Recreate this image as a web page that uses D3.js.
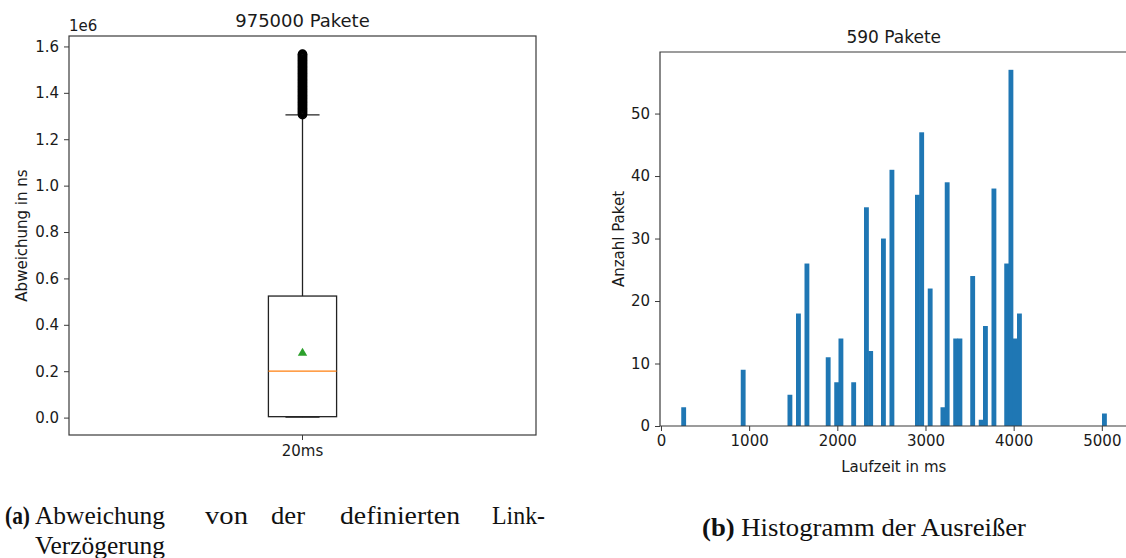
<!DOCTYPE html>
<html>
<head>
<meta charset="utf-8">
<script src="https://cdn.jsdelivr.net/npm/d3@7"></script>
<style>
  html, body { margin: 0; padding: 0; background: #fff; }
  svg { display: block; }
  text { font-family: "DejaVu Sans", sans-serif; fill: #1a1a1a; }
  .caption { font-family: "Liberation Serif", "Times New Roman", serif; fill: #111; }
</style>
</head>
<body>
<script>
// ---------- Box plot: deviation from the configured link delay ----------
const boxCategories = ["20ms"];
const boxStats = {            // ns
  whiskerLow: 2000,
  q1: 4000,
  median: 200000,
  mean: 278000,
  q3: 524000,
  whiskerHigh: 1305000
};
// flier values above the upper whisker, in thousands of ns
const boxFliersK = [
  1306, 1310, 1314, 1318, 1322, 1326, 1330, 1334, 1338, 1342,
  1346, 1350, 1354, 1358, 1362, 1366, 1370, 1374, 1378, 1382,
  1386, 1390, 1394, 1398, 1402, 1406, 1410, 1414, 1418, 1422,
  1426, 1430, 1434, 1438, 1442, 1446, 1450, 1454, 1458, 1462,
  1466, 1470, 1474, 1478, 1482, 1486, 1490, 1494, 1498, 1502,
  1506, 1510, 1514, 1518, 1522, 1526, 1530, 1534, 1538, 1542,
  1546, 1550, 1554, 1558, 1562, 1565, 1567
];
const boxYTicks = [0, 200000, 400000, 600000, 800000, 1000000, 1200000, 1400000, 1600000];

// ---------- Histogram: travel time of the outliers ----------
const histRange = [230, 5050];   // ms, first bin left edge .. last bin right edge
const histBinCount = 100;
const histCounts = [
  3, 0, 0, 0, 0, 0, 0, 0, 0, 0,
  0, 0, 0, 0, 9, 0, 0, 0, 0, 0,
  0, 0, 0, 0, 0, 5, 0, 18, 0, 26,
  0, 0, 0, 0, 11, 0, 7, 14, 0, 0,
  7, 0, 0, 35, 12, 0, 0, 30, 0, 41,
  0, 0, 0, 0, 0, 37, 47, 0, 22, 0,
  0, 3, 39, 0, 14, 14, 0, 0, 24, 0,
  1, 16, 0, 38, 0, 0, 26, 57, 14, 18,
  0, 0, 0, 0, 0, 0, 0, 0, 0, 0,
  0, 0, 0, 0, 0, 0, 0, 0, 0, 2
];
const histXTicks = [0, 1000, 2000, 3000, 4000, 5000];
const histYTicks = [0, 10, 20, 30, 40, 50];

const W = 1126, H = 558;
const svg = d3.select("body").append("svg").attr("width", W).attr("height", H);
svg.append("rect").attr("width", W).attr("height", H).attr("fill", "#fff");

const spineColor = "#3a3a3a";
const tickFont = 15;

// ================= left panel =================
const L = { left: 69, right: 536, top: 36, bottom: 435 };
const yBox = d3.scaleLinear().domain([-75000, 1645000]).range([L.bottom, L.top]);
const xBox = d3.scaleBand().domain(boxCategories).range([L.left, L.right]);
const gL = svg.append("g");

// frame
gL.append("rect")
  .attr("x", L.left).attr("y", L.top)
  .attr("width", L.right - L.left).attr("height", L.bottom - L.top)
  .attr("fill", "none").attr("stroke", spineColor).attr("stroke-width", 1.2);

// y axis
const yAxisL = d3.axisLeft(yBox).tickValues(boxYTicks)
  .tickFormat(d => (d / 1e6).toFixed(1)).tickSize(5).tickPadding(5);
gL.append("g").attr("transform", `translate(${L.left},0)`).call(yAxisL)
  .call(g => g.select(".domain").remove())
  .call(g => g.selectAll("line").attr("stroke", spineColor))
  .call(g => g.selectAll("text").attr("font-size", tickFont)
    .attr("font-family", "DejaVu Sans").attr("fill", "#1a1a1a"));

// x axis
const xAxisL = d3.axisBottom(xBox).tickSize(5).tickPadding(5);
gL.append("g").attr("transform", `translate(0,${L.bottom})`).call(xAxisL)
  .call(g => g.select(".domain").remove())
  .call(g => g.selectAll("line").attr("stroke", spineColor))
  .call(g => g.selectAll("text").attr("font-size", tickFont)
    .attr("font-family", "DejaVu Sans").attr("fill", "#1a1a1a"));

// offset text and titles
gL.append("text").attr("x", L.left).attr("y", 31).attr("font-size", tickFont).text("1e6");
gL.append("text").attr("x", (L.left + L.right) / 2).attr("y", 27)
  .attr("text-anchor", "middle").attr("font-size", 18).text("975000 Pakete");
gL.append("text")
  .attr("transform", `translate(27,${(L.top + L.bottom) / 2}) rotate(-90)`)
  .attr("text-anchor", "middle").attr("font-size", tickFont).text("Abweichung in ns");

// box
const cx = xBox(boxCategories[0]) + xBox.bandwidth() / 2;
const boxW = xBox.bandwidth() * 0.146;
const capW = boxW / 2;
const lineW = 1.3;
const black = "#222";

gL.append("line").attr("x1", cx).attr("x2", cx)
  .attr("y1", yBox(boxStats.q3)).attr("y2", yBox(boxStats.whiskerHigh))
  .attr("stroke", black).attr("stroke-width", lineW);
gL.append("line").attr("x1", cx).attr("x2", cx)
  .attr("y1", yBox(boxStats.q1)).attr("y2", yBox(boxStats.whiskerLow))
  .attr("stroke", black).attr("stroke-width", lineW);
[boxStats.whiskerHigh, boxStats.whiskerLow].forEach(v => {
  gL.append("line").attr("x1", cx - capW / 2).attr("x2", cx + capW / 2)
    .attr("y1", yBox(v)).attr("y2", yBox(v))
    .attr("stroke", black).attr("stroke-width", lineW);
});
gL.append("rect")
  .attr("x", cx - boxW / 2).attr("y", yBox(boxStats.q3))
  .attr("width", boxW).attr("height", yBox(boxStats.q1) - yBox(boxStats.q3))
  .attr("fill", "none").attr("stroke", black).attr("stroke-width", lineW);
gL.append("line").attr("x1", cx - boxW / 2).attr("x2", cx + boxW / 2)
  .attr("y1", yBox(boxStats.median)).attr("y2", yBox(boxStats.median))
  .attr("stroke", "#ff7f0e").attr("stroke-width", 1.3);
gL.append("path")
  .attr("d", d3.symbol(d3.symbolTriangle, 38)())
  .attr("transform", `translate(${cx},${yBox(boxStats.mean)})`)
  .attr("fill", "#2ca02c");

// fliers (hollow circles, so dense they merge into a solid column)
gL.append("g").selectAll("circle").data(boxFliersK).join("circle")
  .attr("cx", cx).attr("cy", d => yBox(d * 1000)).attr("r", 4)
  .attr("fill", "none").attr("stroke", "#000").attr("stroke-width", 1.6);

// ================= right panel =================
const R = { left: 660, right: 1127.5, top: 52, bottom: 426 };
const xHist = d3.scaleLinear().domain([-11, 5291]).range([R.left, R.right]);
const yHist = d3.scaleLinear().domain([0, 59.85]).range([R.bottom, R.top]);
const gR = svg.append("g");

const binW = (histRange[1] - histRange[0]) / histBinCount;
const bins = histCounts.map((c, i) => ({
  x0: histRange[0] + i * binW,
  x1: histRange[0] + (i + 1) * binW,
  count: c
}));

gR.append("g").selectAll("rect").data(bins.filter(b => b.count > 0)).join("rect")
  .attr("x", d => xHist(d.x0))
  .attr("width", d => xHist(d.x1) - xHist(d.x0) + 0.6)
  .attr("y", d => yHist(d.count))
  .attr("height", d => yHist(0) - yHist(d.count))
  .attr("fill", "#1f77b4");

// frame (right spine falls outside the canvas)
gR.append("path")
  .attr("d", `M${R.right},${R.top}H${R.left}V${R.bottom}H${R.right}`)
  .attr("fill", "none").attr("stroke", spineColor).attr("stroke-width", 1.2);

const xAxisR = d3.axisBottom(xHist).tickValues(histXTicks).tickFormat(d3.format("d"))
  .tickSize(5).tickPadding(4);
gR.append("g").attr("transform", `translate(0,${R.bottom})`).call(xAxisR)
  .call(g => g.select(".domain").remove())
  .call(g => g.selectAll("line").attr("stroke", spineColor))
  .call(g => g.selectAll("text").attr("font-size", tickFont)
    .attr("font-family", "DejaVu Sans").attr("fill", "#1a1a1a"));

const yAxisR = d3.axisLeft(yHist).tickValues(histYTicks).tickFormat(d3.format("d"))
  .tickSize(5).tickPadding(5);
gR.append("g").attr("transform", `translate(${R.left},0)`).call(yAxisR)
  .call(g => g.select(".domain").remove())
  .call(g => g.selectAll("line").attr("stroke", spineColor))
  .call(g => g.selectAll("text").attr("font-size", tickFont)
    .attr("font-family", "DejaVu Sans").attr("fill", "#1a1a1a"));

gR.append("text").attr("x", (R.left + R.right) / 2).attr("y", 43)
  .attr("text-anchor", "middle").attr("font-size", 17).text("590 Pakete");
gR.append("text").attr("x", (R.left + R.right) / 2).attr("y", 472)
  .attr("text-anchor", "middle").attr("font-size", tickFont).text("Laufzeit in ms");
gR.append("text")
  .attr("transform", `translate(624,${(R.top + R.bottom) / 2}) rotate(-90)`)
  .attr("text-anchor", "middle").attr("font-size", tickFont).text("Anzahl Paket");

// ================= captions =================
const capSize = 25;
// justified first line of caption (a): word, left edge, set width
const capA = [
  { t: "(a)", x: 5, w: 25, bold: true },
  { t: "Abweichung", x: 35, w: 130 },
  { t: "von", x: 205, w: 43 },
  { t: "der", x: 271, w: 34 },
  { t: "definierten", x: 340, w: 120 },
  { t: "Link-", x: 492, w: 53 }
];
capA.forEach(w => {
  svg.append("text").attr("class", "caption").attr("x", w.x).attr("y", 524)
    .attr("font-size", capSize).attr("font-weight", w.bold ? "bold" : "normal")
    .attr("textLength", w.w).attr("lengthAdjust", "spacingAndGlyphs").text(w.t);
});
svg.append("text").attr("class", "caption").attr("x", 35).attr("y", 554)
  .attr("font-size", capSize).attr("textLength", 130)
  .attr("lengthAdjust", "spacingAndGlyphs").text("Verzögerung");
const capB = svg.append("text").attr("class", "caption").attr("x", 702).attr("y", 536)
  .attr("font-size", capSize).attr("textLength", 324).attr("lengthAdjust", "spacingAndGlyphs");
capB.append("tspan").attr("font-weight", "bold").text("(b)");
capB.append("tspan").text(" Histogramm der Ausreißer");
</script>
</body>
</html>
